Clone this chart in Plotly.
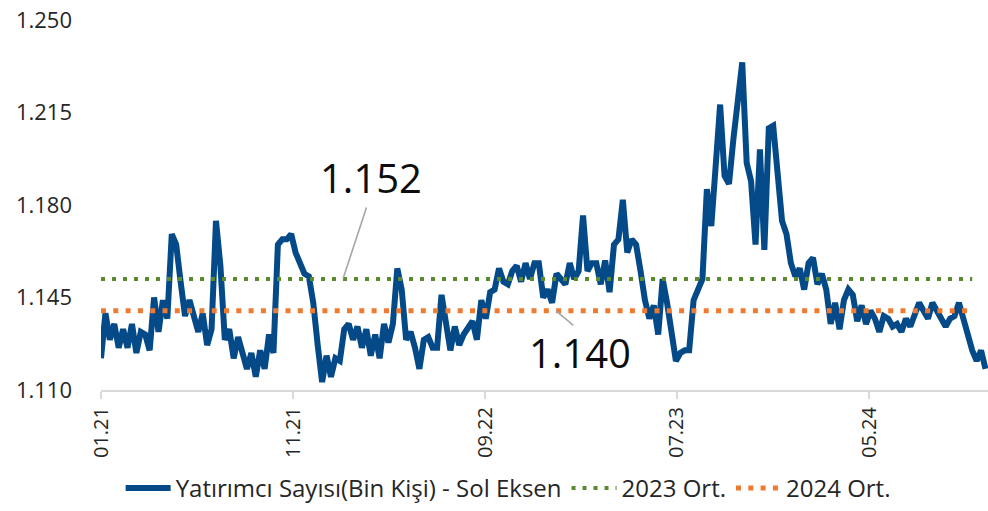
import pandas as pd
import plotly.graph_objects as go

# ---- data (thousand persons) ----
start_date = "2021-01-01"
investors = [
    1122, 1139, 1129, 1135, 1126, 1133, 1126, 1135, 1124, 1132,
    1131, 1125, 1145, 1132, 1144, 1137, 1169, 1165, 1151, 1138,
    1144, 1137, 1132, 1139, 1127, 1133, 1174, 1157, 1129, 1133,
    1122, 1130, 1124, 1118, 1124, 1115, 1125, 1118, 1131, 1124,
    1165, 1167, 1167, 1169, 1162, 1158, 1154, 1153, 1143, 1127,
    1113, 1123, 1115, 1122, 1121, 1133, 1135, 1129, 1134, 1126,
    1133, 1123, 1131, 1122, 1135, 1128, 1135, 1156, 1148, 1129,
    1132, 1126, 1118, 1129, 1130, 1126, 1126, 1146, 1136, 1125,
    1134, 1127, 1131, 1134, 1136, 1129, 1144, 1137, 1147, 1148,
    1156, 1151, 1150, 1155, 1157, 1151, 1158, 1152, 1158, 1158,
    1145, 1148, 1143, 1154, 1152, 1150, 1158, 1152, 1155, 1176,
    1155, 1158, 1158, 1150, 1159, 1147, 1165, 1167, 1182, 1162,
    1167, 1165, 1155, 1144, 1137, 1142, 1131, 1152, 1143, 1130,
    1121, 1124, 1125, 1125, 1144, 1148, 1152, 1186, 1172, 1195,
    1218, 1191, 1188, 1205, 1220, 1234, 1196, 1189, 1165, 1201,
    1163, 1209, 1210, 1191, 1174, 1169, 1158, 1153, 1156, 1148,
    1158, 1160, 1150, 1154, 1148, 1135, 1143, 1133, 1144, 1148,
    1146, 1136, 1142, 1135, 1140, 1137, 1132, 1138, 1137, 1134,
    1135, 1132, 1137, 1134, 1139, 1143, 1140, 1137, 1143, 1140,
    1137, 1134, 1137, 1138, 1143, 1137, 1129, 1125, 1121, 1125,
    1118,
]
avg_2023 = 1152
avg_2024 = 1140
last_label = 1122

series_name = "Yatırımcı Sayısı(Bin Kişi) - Sol Eksen"
avg_2023_name = "2023 Ort."
avg_2024_name = "2024 Ort."

tick_dates = ["2021-01-01", "2021-11-01", "2022-09-01", "2023-07-01", "2024-05-01"]
tick_labels = ["01.21", "11.21", "09.22", "07.23", "05.24"]
y_ticks = [1110, 1145, 1180, 1215, 1250]

dates = pd.date_range(start_date, periods=len(investors), freq="7D")
avg_x = [dates[0], dates[-4]]

BLUE = "#054A88"
GREEN = "#5B8A2E"
ORANGE = "#EE7B2F"
FONT = "Open Sans"

fig = go.Figure()
fig.add_trace(go.Scatter(x=dates, y=investors, mode="lines", name=series_name,
                         line=dict(color=BLUE, width=6)))
fig.add_trace(go.Scatter(x=avg_x, y=[avg_2023, avg_2023], mode="lines", name=avg_2023_name,
                         line=dict(color=GREEN, width=4, dash="4px,7px")))
fig.add_trace(go.Scatter(x=avg_x, y=[avg_2024, avg_2024], mode="lines", name=avg_2024_name,
                         line=dict(color=ORANGE, width=5, dash="5px,7.3px")))

# connectors (empty-text arrows) + big labels
arrow = dict(showarrow=True, arrowhead=0, arrowwidth=1.6, arrowcolor="#A6A6A6", text="")
lab = dict(showarrow=False, font=dict(family=FONT, size=40, color="#0D0D0D"))
a1_x = pd.Timestamp("2022-01-19")
a2_x = pd.Timestamp("2022-12-22")
a3_x = dates[-1] + pd.Timedelta(days=5)
fig.add_annotation(x=a1_x, y=avg_2023, ax=24, ay=-73, **arrow)
fig.add_annotation(x=a1_x, y=avg_2023, text=f"{avg_2023:,}".replace(",", "."), xshift=28, yshift=102, **lab)
fig.add_annotation(x=a2_x, y=avg_2024, ax=19, ay=16, **arrow)
fig.add_annotation(x=a2_x, y=avg_2024, text=f"{avg_2024:,}".replace(",", "."), xshift=24, yshift=-42, **lab)
fig.add_annotation(x=a3_x, y=last_label, ax=-53, ay=-105, **arrow)
fig.add_annotation(x=a3_x, y=last_label, text=f"{last_label:,}".replace(",", "."), xshift=-48, yshift=133, **lab)

fig.update_layout(
    width=988, height=511,
    margin=dict(l=101, r=0, t=20, b=121, autoexpand=False),
    paper_bgcolor="white", plot_bgcolor="white",
    separators=",.",
    font=dict(family=FONT, color="#262626"),
    showlegend=True,
    legend=dict(orientation="h", x=0.459, xanchor="center", y=-0.327, yanchor="bottom",
                font=dict(family=FONT, size=24, color="#262626"),
                traceorder="normal", itemwidth=45),
)
fig.update_xaxes(
    range=[pd.Timestamp("2021-01-01"), pd.Timestamp("2024-11-05")],
    tickmode="array", tickvals=pd.to_datetime(tick_dates), ticktext=tick_labels,
    tickangle=-90, tickfont=dict(size=20, color="#262626"),
    showline=True, linecolor="#D9D9D9", linewidth=2,
    ticks="outside", ticklen=7, tickcolor="#D9D9D9", tickwidth=2,
    showgrid=False, zeroline=False, automargin=False,
)
fig.update_yaxes(
    range=[1110, 1250], tickmode="array", tickvals=y_ticks, tickformat=",d",
    tickfont=dict(size=22, color="#262626"), ticklabelstandoff=28,
    showgrid=False, zeroline=False, showline=False, automargin=False,
)

fig.write_html("out.html", config={"displayModeBar": False},
               post_script="document.body.style.margin='0';document.body.style.overflow='hidden';")
